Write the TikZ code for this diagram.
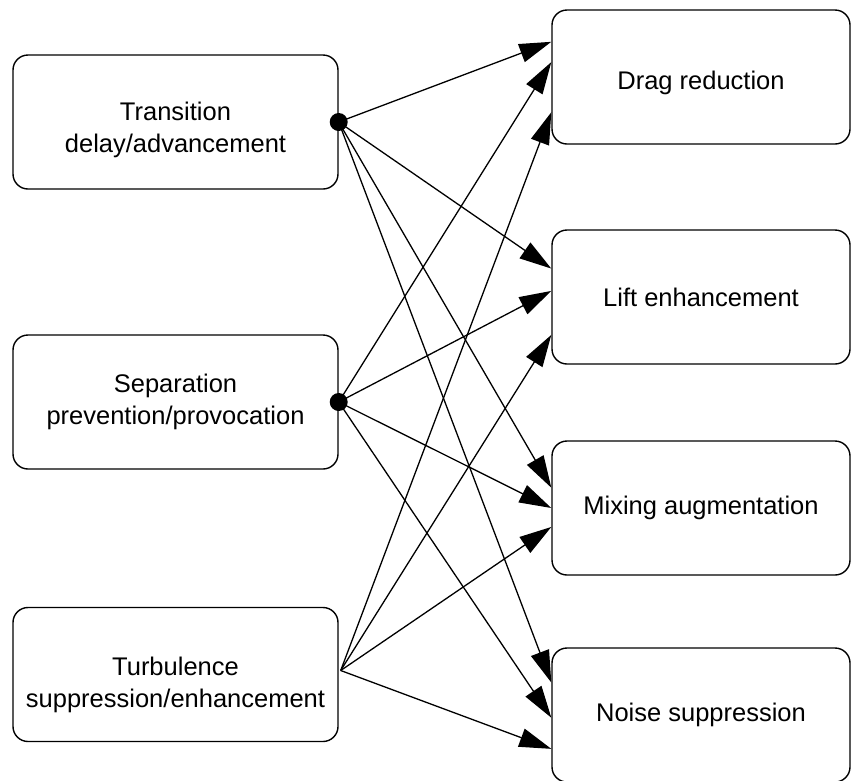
\documentclass[tikz,border=0pt]{standalone}
\usepackage{fontspec}
\setmainfont{Liberation Sans}
\usetikzlibrary{arrows.meta,calc}
\begin{document}
\begin{tikzpicture}[x=1pt,y=-1pt,
  box/.style={draw=black,line width=1.4pt,rounded corners=15pt,
    minimum width=#1,minimum height=134pt,inner sep=0pt},
  txt/.style={align=center,inner sep=0pt,
    font=\fontsize{25.5}{32}\selectfont},
  link/.style={line width=1.3pt,-{Triangle[length=32pt,width=19pt]}},
  junction/.style={fill=black}]
\useasboundingbox (0,0) rectangle (852,780);

% causes (left column)
\node[box=325pt,label={[txt,yshift=-8pt]center:{Transition\\delay/advancement}}]
  (trans) at (175.5,122) {};
\node[box=325pt,label={[txt]center:{Separation\\prevention/provocation}}]
  (sep) at (175.5,402) {};
\node[box=325pt,label={[txt,yshift=-10pt]center:{Turbulence\\suppression/enhancement}}]
  (turb) at (175.5,674.5) {};

% effects (right column)
\node[box=298pt,label={[txt,yshift=-6pt]center:Drag reduction}]
  (drag) at (701,77) {};
\node[box=298pt,label={[txt]center:Lift enhancement}]
  (lift) at (701,297) {};
\node[box=298pt,label={[txt]center:Mixing augmentation}]
  (mix) at (701,508) {};
\node[box=298pt,label={[txt]center:Noise suppression}]
  (noise) at (701,715) {};

% branch points
\coordinate (t0) at (trans.east);
\coordinate (s0) at (sep.east);
\coordinate (u0) at ($(turb.east)+(2,-4)$);

% arrival points on the left side of each effect box
\coordinate (d1) at ($(drag.north west)!0.24!(drag.south west)$);
\coordinate (d2) at ($(drag.north west)!0.39!(drag.south west)$);
\coordinate (d3) at ($(drag.north west)!0.76!(drag.south west)$);
\coordinate (l1) at ($(lift.north west)!0.29!(lift.south west)$);
\coordinate (l2) at ($(lift.north west)!0.455!(lift.south west)$);
\coordinate (l3) at ($(lift.north west)!0.78!(lift.south west)$);
\coordinate (m1) at ($(mix.north west)!0.35!(mix.south west)$);
\coordinate (m2) at ($(mix.north west)!0.5!(mix.south west)$);
\coordinate (m3) at ($(mix.north west)!0.64!(mix.south west)$);
\coordinate (n1) at ($(noise.north west)!0.26!(noise.south west)$);
\coordinate (n2) at ($(noise.north west)!0.52!(noise.south west)$);
\coordinate (n3) at ($(noise.north west)!0.75!(noise.south west)$);

% connectors
\draw[link] (t0) -- (d1);
\draw[link] (t0) -- (l1);
\draw[link] (t0) -- (m1);
\draw[link] (t0) -- (n1);
\draw[link] (s0) -- (d2);
\draw[link] (s0) -- (l2);
\draw[link] (s0) -- (m2);
\draw[link] (s0) -- (n2);
\draw[link] (u0) -- (d3);
\draw[link] (u0) -- (l3);
\draw[link] (u0) -- (m3);
\draw[link] (u0) -- (n3);

\fill[junction] (t0) circle (9pt);
\fill[junction] (s0) circle (9pt);
\end{tikzpicture}
\end{document}
